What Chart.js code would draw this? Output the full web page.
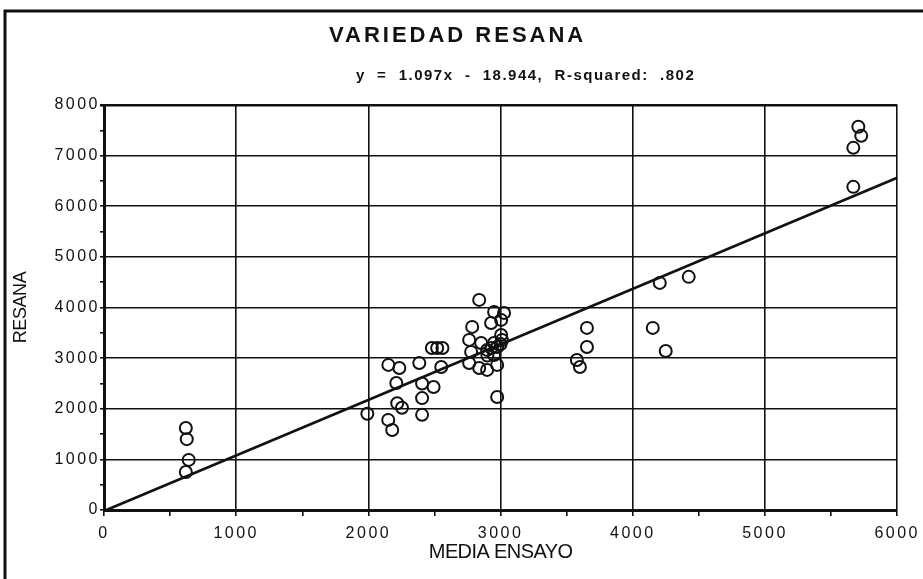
<!DOCTYPE html>
<html>
<head>
<meta charset="utf-8">
<script src="https://cdn.jsdelivr.net/npm/chart.js@4"></script>
<style>
  html, body { margin: 0; padding: 0; background: #fff; }
  #wrap { position: relative; width: 923px; height: 579px; }
</style>
</head>
<body>
<div id="wrap"><canvas id="c" width="923" height="579"></canvas></div>
<script>
'use strict';
// media del ensayo (x) frente a rendimiento de Resana (y)
const mediaEnsayo = [
  619, 626, 641, 619,
  1992, 2150, 2180, 2218, 2254, 2211, 2406, 2406, 2406, 2493,
  2151, 2234, 2385, 2551, 2480, 2520, 2560,
  2838, 2951, 3026, 2928, 3004, 2785, 2762, 3004, 2853, 2777, 2898, 2974,
  2762, 2838, 2898, 2974, 2974, 2951, 3011, 2900, 2950, 3000, 2930,
  3653, 3653, 3577, 3600, 4151, 4249, 4204, 4423,
  5706, 5728, 5668, 5668
];
const resana = [
  1620, 1400, 990, 750,
  1900, 1780, 1580, 2110, 2020, 2510, 2500, 2210, 1880, 2430,
  2866, 2806, 2905, 2826, 3200, 3200, 3200,
  4150, 3913, 3893, 3695, 3755, 3617, 3360, 3458, 3300, 3123, 3162, 3221,
  2905, 2806, 2767, 2866, 2233, 3063, 3360, 3050, 3300, 3280, 3200,
  3597, 3221, 2964, 2826, 3597, 3142, 4486, 4605,
  7569, 7391, 7154, 6383
];
// recta de regresión y = 1.097x - 18.944 en los extremos del eje
const rectaX = [0, 6000];
const rectaY = [-19, 6563];

const xTicks = [0, 1000, 2000, 3000, 4000, 5000, 6000];
const yTicks = [0, 1000, 2000, 3000, 4000, 5000, 6000, 7000, 8000];

const titulo = 'VARIEDAD RESANA';
const subtitulo = 'y  =  1.097x  -  18.944,  R-squared:  .802';

const FONT = '"Liberation Sans", Arial, Helvetica, sans-serif';

const isMajor = (v, list) => list.includes(v);

// espaciado de letras en etiquetas y títulos de eje (el original es muy espaciado)
function spaced(s, labelSp, titleSp) {
  if (s._spaced) return;
  s._spaced = true;
  const lab = s.drawLabels.bind(s), tit = s.drawTitle.bind(s);
  s.drawLabels = a => { s.ctx.save(); s.ctx.letterSpacing = labelSp; lab(a); s.ctx.restore(); };
  s.drawTitle = a => { s.ctx.save(); s.ctx.letterSpacing = titleSp; tit(a); s.ctx.restore(); };
}

// marco exterior + título y subtítulo
const marco = {
  id: 'marco',
  beforeDraw(chart) {
    const { ctx } = chart;
    ctx.save();
    ctx.fillStyle = '#fff';
    ctx.fillRect(0, 0, chart.width, chart.height);
    ctx.strokeStyle = '#111';
    ctx.lineWidth = 3;
    ctx.beginPath();
    ctx.moveTo(5, chart.height);
    ctx.lineTo(5, 11);
    ctx.lineTo(chart.width, 11);
    ctx.stroke();

    const cx = (chart.chartArea.left + chart.chartArea.right) / 2;
    ctx.fillStyle = '#111';
    ctx.textAlign = 'center';
    ctx.textBaseline = 'middle';
    ctx.font = 'bold 22px ' + FONT;
    ctx.letterSpacing = '3px';
    ctx.fillText(titulo, cx - 43, 36);
    ctx.font = 'bold 15px ' + FONT;
    ctx.letterSpacing = '1.5px';
    ctx.fillText(subtitulo, cx + 25, 76);
    ctx.restore();
  },
};

new Chart(document.getElementById('c'), {
  type: 'scatter',
  data: {
    datasets: [
      {
        data: mediaEnsayo.map((x, i) => ({ x, y: resana[i] })),
        pointStyle: 'circle',
        pointRadius: 6,
        pointBorderWidth: 2,
        pointBorderColor: '#111',
        pointBackgroundColor: 'rgba(255,255,255,0)',
        order: 1,
      },
      {
        type: 'line',
        data: rectaX.map((x, i) => ({ x, y: rectaY[i] })),
        borderColor: '#111',
        borderWidth: 2.6,
        pointRadius: 0,
        fill: false,
        order: 2,
      },
    ],
  },
  plugins: [marco],
  options: {
    responsive: false,
    animation: false,
    clip: false,
    layout: { padding: { left: 0, right: 24, top: 105, bottom: 0 } },
    plugins: {
      legend: { display: false },
      tooltip: { enabled: false },
    },
    scales: {
      x: {
        type: 'linear', min: 0, max: 6000,
        afterFit: s => { s.height = 69; spaced(s, '2.5px', '-0.6px'); },
        ticks: {
          stepSize: 500, color: '#111', padding: 8, maxRotation: 0, autoSkip: false,
          font: { family: FONT, size: 16 },
          callback: v => isMajor(v, xTicks) ? String(v) : '',
        },
        grid: {
          color: c => isMajor(c.tick && c.tick.value, xTicks) ? '#111' : 'rgba(0,0,0,0)',
          tickColor: '#111', lineWidth: 1.6, tickLength: 6,
        },
        border: { color: '#111', width: 3 },
        title: {
          display: true, text: 'MEDIA ENSAYO', color: '#111',
          font: { family: FONT, size: 20 }, padding: { top: 0, bottom: 15 },
        },
      },
      y: {
        type: 'linear', min: 0, max: 8000,
        afterFit: s => { s.width = 104; spaced(s, '2.5px', '-0.4px'); },
        ticks: {
          stepSize: 500, color: '#111', padding: 0, autoSkip: false,
          font: { family: FONT, size: 16 },
          callback: v => isMajor(v, yTicks) ? String(v) : '',
        },
        grid: {
          color: c => isMajor(c.tick && c.tick.value, yTicks) ? '#111' : 'rgba(0,0,0,0)',
          tickColor: '#111', lineWidth: c => (c.tick && c.tick.value === 8000) ? 2.6 : 1.6, tickLength: 4,
        },
        border: { color: '#111', width: 3 },
        title: {
          display: true, text: 'RESANA', color: '#111',
          font: { family: FONT, size: 18 }, padding: { top: 10, bottom: 0 },
        },
      },
    },
  },
});
</script>
</body>
</html>
